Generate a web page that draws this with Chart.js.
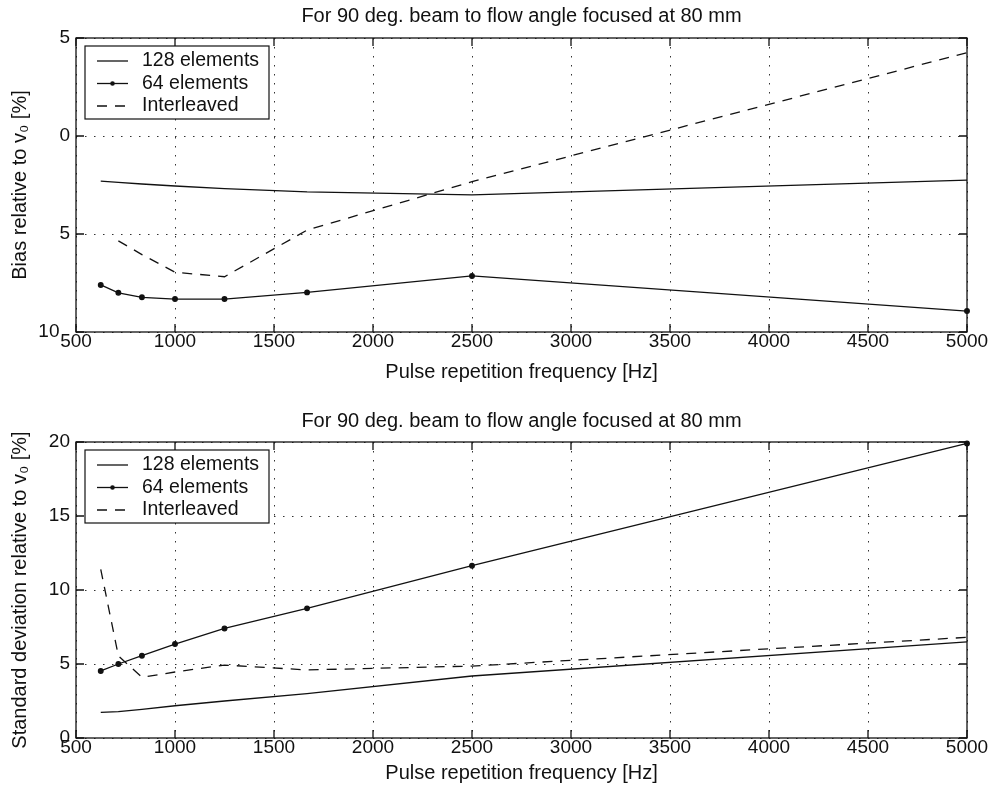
<!DOCTYPE html>
<html>
<head>
<meta charset="utf-8">
<script src="https://cdn.jsdelivr.net/npm/chart.js@4.4.1/dist/chart.umd.min.js"></script>
<style>
  body { margin: 0; background: #fff; }
  #wrap { position: relative; width: 992px; height: 792px; }
  canvas { position: absolute; left: 0; }
</style>
</head>
<body>
<div id="wrap">
  <canvas id="biasChart" width="992" height="396" style="top:0"></canvas>
  <canvas id="stdChart" width="992" height="396" style="top:396px"></canvas>
</div>
<script>
// Pulse repetition frequencies (Hz)
const prf = [625, 714, 833, 1000, 1250, 1667, 2500, 5000];
const prfInterBias = [714, 833, 1000, 1250, 1667, 2500, 5000];

// Top plot: bias [%]
const bias128 = [-2.3, -2.37, -2.45, -2.55, -2.68, -2.85, -3.0, -2.25];
const bias64 = [-7.6, -8.0, -8.23, -8.32, -8.32, -7.98, -7.14, -8.93];
const biasInter = [-5.35, -6.05, -6.95, -7.18, -4.8, -2.33, 4.25];

// Bottom plot: standard deviation [%]
const std128 = [1.73, 1.78, 1.94, 2.18, 2.5, 3.0, 4.19, 6.5];
const std64 = [4.53, 5.0, 5.56, 6.35, 7.4, 8.76, 11.64, 19.9];
const stdInter = [11.4, 5.55, 4.1, 4.46, 4.93, 4.6, 4.86, 6.8];

// tick labels as printed on the figure
const xTicks = [500, 1000, 1500, 2000, 2500, 3000, 3500, 4000, 4500, 5000];
const biasTicks = [-10, -5, 0, 5];
const biasTickLabels = ['10  ', '5', '0', '5'];
const stdTicks = [0, 5, 10, 15, 20];
const stdTickLabels = ['0', '5', '10', '15', '20'];

const seriesLabels = ['128 elements', '64 elements', 'Interleaved'];
const titleText = 'For 90 deg. beam to flow angle focused at 80 mm';

const FONT = '"Liberation Sans", Arial, Helvetica, sans-serif';
const INK = '#111';

const pts = (xs, ys) => xs.map((x, i) => ({ x: x, y: ys[i] }));

const lineBase = {
    borderColor: INK,
    backgroundColor: INK,
    borderWidth: 1.3,
    tension: 0,
    fill: false,
    pointRadius: 0,
    pointHoverRadius: 0,
    clip: 6
};

// Title over the axes, box around the axes, inward ticks and the legend box (matlab look)
const framePlugin = {
    id: 'frame',
    afterDraw(chart, args, opts) {
        const { ctx, chartArea: a, scales } = chart;
        ctx.save();
        ctx.fillStyle = INK;
        ctx.font = '20px ' + FONT;
        ctx.textAlign = 'center';
        ctx.textBaseline = 'middle';
        ctx.fillText(titleText, (a.left + a.right) / 2, opts.titleY);

        ctx.strokeStyle = INK;
        ctx.lineWidth = 1.3;
        ctx.setLineDash([]);
        ctx.strokeRect(a.left, a.top, a.right - a.left, a.bottom - a.top);

        ctx.beginPath();
        scales.x.ticks.forEach(t => {
            const px = scales.x.getPixelForValue(t.value);
            ctx.moveTo(px, a.bottom); ctx.lineTo(px, a.bottom - 8);
            ctx.moveTo(px, a.top); ctx.lineTo(px, a.top + 8);
        });
        scales.y.ticks.forEach(t => {
            const py = scales.y.getPixelForValue(t.value);
            ctx.moveTo(a.left, py); ctx.lineTo(a.left + 8, py);
            ctx.moveTo(a.right, py); ctx.lineTo(a.right - 8, py);
        });
        ctx.stroke();

        // legend
        const lx = a.left + 9, ly = a.top + 8, lw = 184, lh = 73;
        ctx.fillStyle = '#fff';
        ctx.fillRect(lx, ly, lw, lh);
        ctx.lineWidth = 1.2;
        ctx.strokeRect(lx, ly, lw, lh);
        ctx.font = '19.5px ' + FONT;
        ctx.textAlign = 'left';
        ctx.fillStyle = INK;
        chart.data.datasets.forEach((ds, i) => {
            const y = ly + 15 + i * 22.5;
            ctx.setLineDash(ds.borderDash || []);
            ctx.lineWidth = ds.borderWidth;
            ctx.beginPath();
            ctx.moveTo(lx + 12, y);
            ctx.lineTo(lx + 43, y);
            ctx.stroke();
            ctx.setLineDash([]);
            if (ds.pointRadius > 0) {
                ctx.beginPath();
                ctx.arc(lx + 27.5, y, ds.pointRadius, 0, Math.PI * 2);
                ctx.fill();
            }
            ctx.fillText(ds.label, lx + 57, y);
        });
        ctx.restore();
    }
};

function axes(yTicks, yLabels, yTitle, xHeight, xTitlePad, yTitlePad) {
    return {
        x: {
            type: 'linear',
            min: 500,
            max: 5000,
            afterBuildTicks: s => { s.ticks = xTicks.map(v => ({ value: v })); },
            afterFit: s => { s.height = xHeight; },
            ticks: {
                color: INK,
                padding: 0,
                font: { family: FONT, size: 19, lineHeight: 1 },
                callback: v => String(v)
            },
            grid: { color: '#333', lineWidth: 1, drawTicks: false },
            border: { display: false, dash: [1.5, 7.5] },
            title: {
                display: true,
                text: 'Pulse repetition frequency [Hz]',
                color: INK,
                font: { family: FONT, size: 20 },
                padding: { top: 0, bottom: xTitlePad }
            }
        },
        y: {
            type: 'linear',
            min: yTicks[0],
            max: yTicks[yTicks.length - 1],
            afterBuildTicks: s => { s.ticks = yTicks.map(v => ({ value: v })); },
            afterFit: s => { s.width = 76; },
            ticks: {
                color: INK,
                padding: 6,
                font: { family: FONT, size: 19 },
                callback: v => yLabels[yTicks.indexOf(v)]
            },
            grid: { color: '#333', lineWidth: 1, drawTicks: false },
            border: { display: false, dash: [1.5, 7.5] },
            title: {
                display: true,
                text: yTitle,
                color: INK,
                font: { family: FONT, size: 20 },
                padding: { top: yTitlePad, bottom: 0 }
            }
        }
    };
}

const biasChart = document.getElementById('biasChart');
new Chart(biasChart, {
    type: 'line',
    data: {
        datasets: [
            { ...lineBase, label: seriesLabels[0], data: pts(prf, bias128) },
            { ...lineBase, label: seriesLabels[1], data: pts(prf, bias64), pointRadius: 2.3 },
            { ...lineBase, label: seriesLabels[2], data: pts(prfInterBias, biasInter), borderDash: [10, 8] }
        ]
    },
    options: {
        responsive: false,
        animation: false,
        events: [],
        layout: { padding: { left: 0, right: 25, top: 38, bottom: 0 } },
        plugins: {
            legend: { display: false },
            tooltip: { enabled: false },
            frame: { titleY: 16 }
        },
        scales: axes(biasTicks, biasTickLabels, 'Bias relative to v\u2080 [%]', 64, 12, 8.6)
    },
    plugins: [framePlugin]
});

const stdChart = document.getElementById('stdChart');
new Chart(stdChart, {
    type: 'line',
    data: {
        datasets: [
            { ...lineBase, label: seriesLabels[0], data: pts(prf, std128) },
            { ...lineBase, label: seriesLabels[1], data: pts(prf, std64), pointRadius: 2.3 },
            { ...lineBase, label: seriesLabels[2], data: pts(prf, stdInter), borderDash: [10, 8] }
        ]
    },
    options: {
        responsive: false,
        animation: false,
        events: [],
        layout: { padding: { left: 0, right: 25, top: 46, bottom: 0 } },
        plugins: {
            legend: { display: false },
            tooltip: { enabled: false },
            frame: { titleY: 25 }
        },
        scales: axes(stdTicks, stdTickLabels, 'Standard deviation relative to v\u2080 [%]', 54, 7, 8.6)
    },
    plugins: [framePlugin]
});
</script>
</body>
</html>
